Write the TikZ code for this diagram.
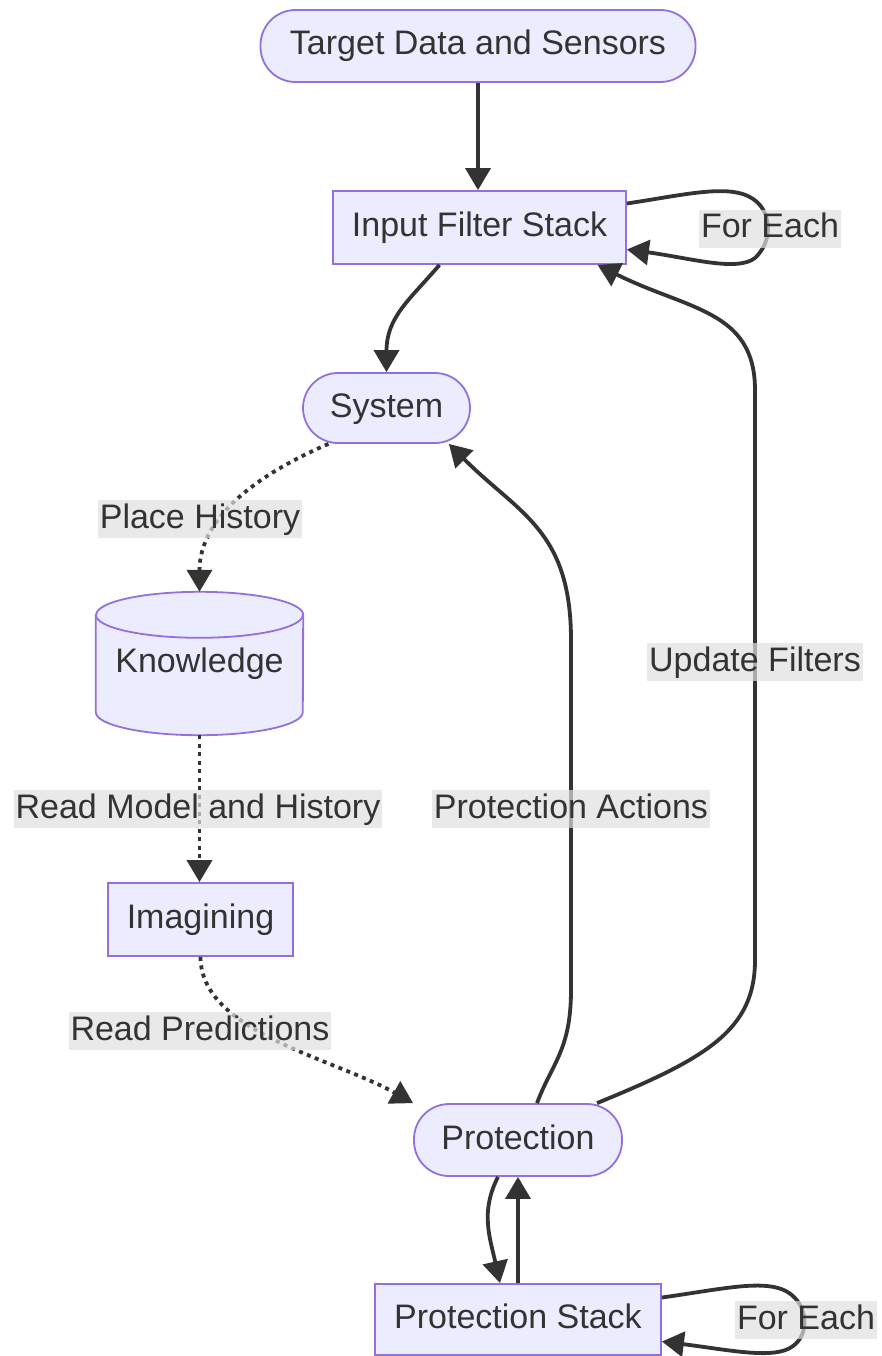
\documentclass[tikz,border=0pt]{standalone}
\usepackage{fontspec}
\setmainfont{Liberation Sans}
\usetikzlibrary{arrows.meta,backgrounds}
\definecolor{nodefill}{HTML}{ECECFF}
\definecolor{nodeline}{HTML}{9370DB}
\definecolor{ink}{HTML}{333333}
\definecolor{labelbg}{HTML}{E0E0E0}

\begin{document}
\begin{tikzpicture}[x=1pt,y=-1pt,
  every node/.style={font=\fontsize{34}{40}\selectfont, text=ink, text height=25pt, text depth=7pt},
  stadium/.style={draw=nodeline, fill=nodefill, line width=1.8pt, rounded corners=35pt, inner sep=0pt},
  box/.style={draw=nodeline, fill=nodefill, line width=1.8pt, inner sep=0pt},
  edgelabel/.style={fill=labelbg, fill opacity=0.7, text opacity=1, inner xsep=2pt, inner ysep=3pt},
  flow/.style={draw=ink, line width=3.8pt, -{Triangle[length=22pt,width=25pt]}},
  dots/.style={flow, dash pattern=on 4pt off 4.5pt},
]
\useasboundingbox (0,0) rectangle (882,1356);

% main nodes
\node[stadium, minimum width=435pt, minimum height=72pt] (tgt) at (478,46) {Target Data and Sensors};
\node[box, minimum width=293pt, minimum height=73pt] (input) at (479.5,227.5) {Input Filter Stack};
\node[stadium, minimum width=167pt, minimum height=70pt] (sys) at (386.5,408) {System};
\node[inner sep=0pt, minimum width=207pt, minimum height=143pt] (know) at (199.5,663.5) {Knowledge};
\node[box, minimum width=185pt, minimum height=73pt] (imag) at (200.5,919.5) {Imagining};
\node[stadium, minimum width=208pt, minimum height=72pt] (prot) at (518,1140) {Protection};
\node[box, minimum width=286pt, minimum height=71pt] (pstack) at (518,1319.5) {Protection Stack};

% database cylinder behind the Knowledge text
\begin{scope}[on background layer]
  \filldraw[draw=nodeline, fill=nodefill, line width=1.8pt]
    ([yshift=-23pt]know.north west) -- ([yshift=23pt]know.south west)
    arc[start angle=180, end angle=360, x radius=103.5pt, y radius=23pt]
    -- ([yshift=-23pt]know.north east)
    arc[start angle=0, end angle=180, x radius=103.5pt, y radius=23pt] -- cycle;
  \draw[draw=nodeline, line width=1.8pt] ([yshift=-23pt]know.north west)
    arc[start angle=180, end angle=360, x radius=103.5pt, y radius=23pt];
\end{scope}

% connectors
\draw[flow] (tgt.south) -- (tgt.south |- input.north);
\draw[flow] ([xshift=-40pt]input.south) .. controls +(-30,35) and +(0,-55) .. (sys.north);
\draw[dots] ([xshift=-58pt]sys.south) .. controls +(-70,30) and +(0,-75) .. (know.north);
\draw[dots] (know.south) -- (know.south |- imag.north);
\draw[dots] (imag.south) .. controls +(0,75) and +(-80,-45) .. (prot.north west);
\draw[flow] ([xshift=19pt]prot.north) .. controls +(15,-40) and +(0,60) .. (571,990)
  -- (571,640) .. controls +(0,-110) and +(70,70) .. ([xshift=-22pt]sys.south east);
\draw[flow] ([xshift=79pt]prot.north) .. controls +(110,-45) and +(0,70) .. (755,960)
  -- (755,390) .. controls +(0,-80) and +(90,45) .. ([xshift=118pt]input.south);
\draw[flow] ([xshift=-20pt]prot.south) .. controls +(-18,35) and +(-10,-45) .. ([xshift=-18pt]pstack.north);
\draw[flow] (pstack.north) -- (prot.south);

% self loops
\draw[flow] ([yshift=24pt]input.east) .. controls (690,194) and (735,182) .. (757,202)
  .. controls (772,216) and (772,242) .. (755,258)
  .. controls (737,272) and (690,258) .. ([yshift=-22pt]input.east);
\draw[flow] ([yshift=22pt]pstack.east) .. controls (730,1288) and (775,1276) .. (795,1298)
  .. controls (808,1312) and (808,1335) .. (793,1346)
  .. controls (775,1360) and (730,1350) .. ([yshift=-22pt]pstack.east);

% edge labels
\node[edgelabel] (fe1) at (770,229) {For Each};
\node[edgelabel] (ph) at (200,519) {Place History};
\node[edgelabel] (rmh) at (198,809) {Read Model and History};
\node[edgelabel] (rp) at (200,1031) {Read Predictions};
\node[edgelabel] (pa) at (571,809) {Protection Actions};
\node[edgelabel] (uf) at (755,662) {Update Filters};
\node[edgelabel] (fe2) at (806,1320) {For Each};
\end{tikzpicture}
\end{document}
